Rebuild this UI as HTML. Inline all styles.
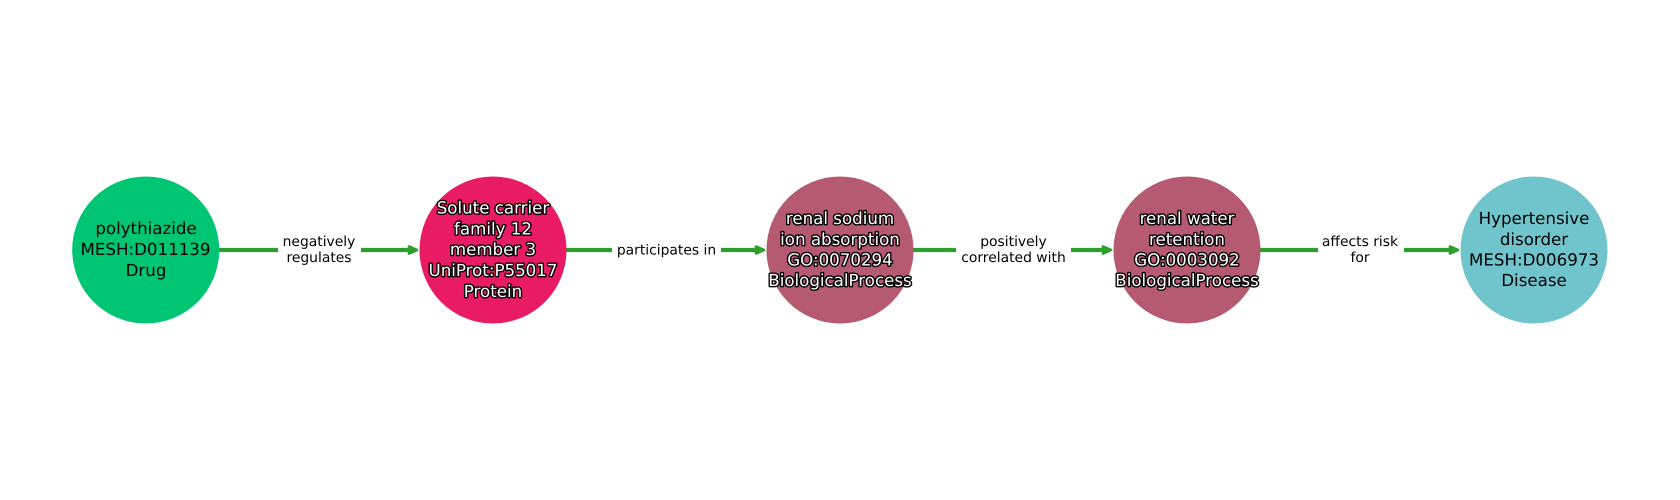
<!DOCTYPE html>
<html>
<head>
<meta charset="utf-8">
<style>
html,body{margin:0;padding:0;background:#fff;}
svg{display:block;}
text{font-family:"DejaVu Sans",sans-serif;text-anchor:middle;text-rendering:geometricPrecision;}
.n{font-size:16.67px;fill:#000;}
.w{font-size:16.67px;fill:#fff;stroke:#000;stroke-width:2.8px;paint-order:stroke fill;stroke-linejoin:round;}
.e{font-size:13.89px;fill:#000;}
</style>
</head>
<body>
<svg width="1680" height="500" viewBox="0 0 1680 500" xmlns="http://www.w3.org/2000/svg">
<rect width="1680" height="500" fill="#fff"/>
<g stroke="#2ca02c" stroke-width="4.170" fill="none">
<path d="M219 250H278M361 250H410"/>
<path d="M566 250H612M721 250H758"/>
<path d="M913 250H956M1071 250H1106"/>
<path d="M1260 250H1318M1404 250H1453"/>
</g>
<g fill="#2ca02c" stroke="#2ca02c" stroke-width="2.600" stroke-linejoin="round">
<path d="M409 246.500 L417 250 L409 253.500Z"/>
<path d="M756 246.500 L764 250 L756 253.500Z"/>
<path d="M1103 246.500 L1111 250 L1103 253.500Z"/>
<path d="M1450 246.500 L1458 250 L1450 253.500Z"/>
</g>
<circle cx="145.700" cy="250" r="73.500" fill="#00c573"/>
<circle cx="493" cy="250" r="73.500" fill="#e91b64"/>
<circle cx="840" cy="250" r="73.500" fill="#b55a70"/>
<circle cx="1187" cy="250" r="73.500" fill="#b55a70"/>
<circle cx="1534" cy="250" r="73.500" fill="#70c5cc"/>
<text class="n" x="146" y="234">polythiazide</text>
<text class="n" x="145.500" y="255">MESH:D011139</text>
<text class="n" x="146" y="276">Drug</text>
<text class="w" x="493" y="213.500">Solute carrier</text>
<text class="w" x="493" y="234.500">family 12</text>
<text class="w" x="493" y="255">member 3</text>
<text class="w" x="493" y="276">UniProt:P55017</text>
<text class="w" x="493" y="297">Protein</text>
<text class="w" x="840" y="224">renal sodium</text>
<text class="w" x="840" y="245">ion absorption</text>
<text class="w" x="840" y="265.500">GO:0070294</text>
<text class="w" x="840" y="286">BiologicalProcess</text>
<text class="w" x="1187" y="224">renal water</text>
<text class="w" x="1187" y="245">retention</text>
<text class="w" x="1187" y="265.500">GO:0003092</text>
<text class="w" x="1187" y="286">BiologicalProcess</text>
<text class="n" x="1534" y="224">Hypertensive</text>
<text class="n" x="1534" y="245">disorder</text>
<text class="n" x="1534" y="265.500">MESH:D006973</text>
<text class="n" x="1534" y="286">Disease</text>
<text class="e" x="319" y="246">negatively</text>
<text class="e" x="319" y="262">regulates</text>
<text class="e" x="666.500" y="254.500">participates in</text>
<text class="e" x="1013.500" y="246">positively</text>
<text class="e" x="1013.500" y="262">correlated with</text>
<text class="e" x="1360" y="246">affects risk</text>
<text class="e" x="1360" y="262">for</text>
</svg>
</body>
</html>
